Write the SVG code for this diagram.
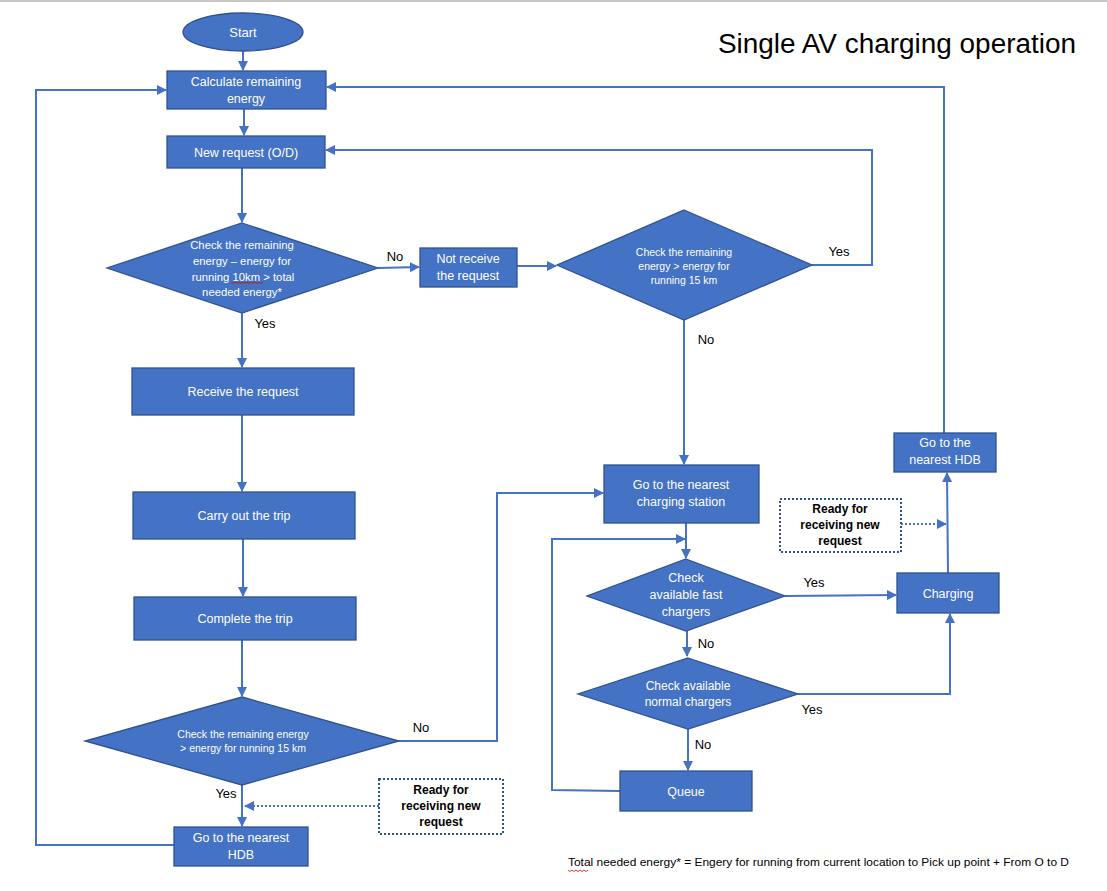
<svg xmlns="http://www.w3.org/2000/svg" width="1107" height="891" viewBox="0 0 1107 891">
<style>
.n{fill:#4472C4;stroke:#2F528F;stroke-width:1.3}
.t{fill:#fff;font-family:"Liberation Sans",Arial,sans-serif;text-anchor:middle}
.c{fill:none;stroke:#4472C4;stroke-width:2}
.d{fill:none;stroke:#4472C4;stroke-width:2;stroke-dasharray:2 2}
.box{fill:#fff;stroke:#2F528F;stroke-width:2;stroke-dasharray:2 2}
.b{fill:#000;font-family:"Liberation Sans",Arial,sans-serif;font-weight:bold;font-size:12px;text-anchor:middle}
.l{fill:#000;font-family:"Liberation Sans",Arial,sans-serif;font-size:13px;text-anchor:middle}
.sq{fill:none;stroke:#d00;stroke-width:0.8}
</style>
<defs>
<marker id="a" viewBox="0 0 10 10" refX="9" refY="5" markerWidth="5" markerHeight="5" orient="auto" markerUnits="strokeWidth">
<path d="M0,0 L10,5 L0,10 z" fill="#4472C4"/>
</marker>
</defs>
<rect x="0" y="0" width="1107" height="891" fill="#fff"/>
<line x1="0" y1="1" x2="1107" y2="1" stroke="#c8c8c8" stroke-width="2"/>
<text x="718" y="53" font-family="'Liberation Sans',Arial,sans-serif" font-size="27" textLength="358" lengthAdjust="spacingAndGlyphs" fill="#000">Single AV charging operation</text>

<g id="connectors">
<line class="c" x1="243" y1="51" x2="243" y2="70" marker-end="url(#a)"/>
<line class="c" x1="244" y1="109" x2="244" y2="135" marker-end="url(#a)"/>
<line class="c" x1="242" y1="168" x2="242" y2="222" marker-end="url(#a)"/>
<line class="c" x1="378" y1="268" x2="419" y2="267" marker-end="url(#a)"/>
<line class="c" x1="517" y1="266" x2="556" y2="266" marker-end="url(#a)"/>
<polyline class="c" points="812,265 872,265 872,150 326,150" marker-end="url(#a)"/>
<line class="c" x1="684" y1="320" x2="684" y2="464" marker-end="url(#a)"/>
<polyline class="c" points="944,433 944,87 327,87" marker-end="url(#a)"/>
<line class="c" x1="242" y1="313" x2="242" y2="367" marker-end="url(#a)"/>
<line class="c" x1="242" y1="415" x2="242" y2="491" marker-end="url(#a)"/>
<line class="c" x1="243" y1="539" x2="243" y2="596" marker-end="url(#a)"/>
<line class="c" x1="242" y1="640" x2="242" y2="696" marker-end="url(#a)"/>
<polyline class="c" points="399,741 497,741 497,493 603,493" marker-end="url(#a)"/>
<line class="c" x1="242" y1="785" x2="242" y2="826" marker-end="url(#a)"/>
<polyline class="c" points="174,845 36,845 36,90 166,90" marker-end="url(#a)"/>
<line class="d" x1="379" y1="806" x2="245" y2="806" marker-end="url(#a)"/>
<line class="c" x1="686" y1="523" x2="686" y2="558" marker-end="url(#a)"/>
<polyline class="c" points="620,791 552,790 552,539 685,539" marker-end="url(#a)"/>
<line class="c" x1="785" y1="596" x2="896" y2="595" marker-end="url(#a)"/>
<line class="c" x1="687" y1="631" x2="687" y2="656" marker-end="url(#a)"/>
<polyline class="c" points="798,694 950,694 950,614" marker-end="url(#a)"/>
<line class="c" x1="688" y1="729" x2="688" y2="770" marker-end="url(#a)"/>
<line class="c" x1="948" y1="573" x2="947" y2="473" marker-end="url(#a)"/>
<line class="d" x1="901" y1="524" x2="946" y2="524" marker-end="url(#a)"/>
</g>

<g id="labels">
<text class="l" x="395" y="261">No</text>
<text class="l" x="839" y="256">Yes</text>
<text class="l" x="706" y="344">No</text>
<text class="l" x="265" y="328">Yes</text>
<text class="l" x="421" y="732">No</text>
<text class="l" x="226" y="798">Yes</text>
<text class="l" x="814" y="587">Yes</text>
<text class="l" x="706" y="648">No</text>
<text class="l" x="812" y="714">Yes</text>
<text class="l" x="703" y="749">No</text>
</g>

<g id="start">
<ellipse class="n" cx="243" cy="32" rx="60" ry="19"/>
<text class="t" x="243" y="37" font-size="13">Start</text>
</g>
<g id="calc">
<rect class="n" x="167" y="71" width="159" height="38"/>
<text class="t" x="246" y="86" font-size="12.5">Calculate remaining</text>
<text class="t" x="246" y="103" font-size="12.5">energy</text>
</g>
<g id="newreq">
<rect class="n" x="167" y="136" width="158" height="32"/>
<text class="t" x="246" y="157" font-size="12.5">New request (O/D)</text>
</g>
<g id="check1">
<polygon class="n" points="242,223 378,268 242,313 107,268"/>
<text class="t" x="242" y="249" font-size="11.3">Check the remaining</text>
<text class="t" x="242" y="265" font-size="11.3">energy – energy for</text>
<text class="t" x="243" y="281" font-size="11.3">running 10km &gt; total</text>
<text class="t" x="242" y="296" font-size="11.3">needed energy*</text>
<path class="sq" d="M231,282 l2,1.5 l2,-1.5 l2,1.5 l2,-1.5 l2,1.5 l2,-1.5 l2,1.5 l2,-1.5 l2,1.5 l2,-1.5 l2,1.5 l2,-1.5 l2,1.5 l2,-1.5 l2,1.5 l2,-1.5"/>
</g>
<g id="notreceive">
<rect class="n" x="420" y="248" width="97" height="39"/>
<text class="t" x="468" y="263" font-size="12.5">Not receive</text>
<text class="t" x="468" y="280" font-size="12.5">the request</text>
</g>
<g id="check2">
<polygon class="n" points="684,210 812,265 684,320 557,265"/>
<text class="t" x="684" y="256" font-size="10.5">Check the remaining</text>
<text class="t" x="684" y="270" font-size="10.5">energy &gt; energy for</text>
<text class="t" x="684" y="284" font-size="10.5">running 15 km</text>
</g>
<g id="receive">
<rect class="n" x="132" y="368" width="222" height="47"/>
<text class="t" x="243" y="396" font-size="12.5">Receive the request</text>
</g>
<g id="carry">
<rect class="n" x="133" y="492" width="222" height="47"/>
<text class="t" x="244" y="520" font-size="12.5">Carry out the trip</text>
</g>
<g id="complete">
<rect class="n" x="134" y="597" width="222" height="43"/>
<text class="t" x="245" y="623" font-size="12.5">Complete the trip</text>
</g>
<g id="check3">
<polygon class="n" points="242,697 399,741 242,785 85,741"/>
<text class="t" x="243" y="738" font-size="10.5">Check the remaining energy</text>
<text class="t" x="243" y="752" font-size="10.5">&gt; energy for running 15 km</text>
</g>
<g id="hdbleft">
<rect class="n" x="174" y="827" width="134" height="39"/>
<text class="t" x="241" y="842" font-size="12.5">Go to the nearest</text>
<text class="t" x="241" y="859" font-size="12.5">HDB</text>
</g>
<g id="readyleft">
<rect class="box" x="379" y="779" width="124" height="55"/>
<text class="b" x="441" y="794">Ready for</text>
<text class="b" x="441" y="810">receiving new</text>
<text class="b" x="441" y="826">request</text>
</g>
<g id="station">
<rect class="n" x="604" y="465" width="155" height="58"/>
<text class="t" x="681" y="489" font-size="12.5">Go to the nearest</text>
<text class="t" x="681" y="506" font-size="12.5">charging station</text>
</g>
<g id="fast">
<polygon class="n" points="686,559 785,596 686,631 587,596"/>
<text class="t" x="686" y="582" font-size="12.5">Check</text>
<text class="t" x="686" y="599" font-size="12.5">available fast</text>
<text class="t" x="686" y="616" font-size="12.5">chargers</text>
</g>
<g id="normal">
<polygon class="n" points="688,658 798,694 688,729 578,694"/>
<text class="t" x="688" y="690" font-size="12">Check available</text>
<text class="t" x="688" y="706" font-size="12">normal chargers</text>
</g>
<g id="queue">
<rect class="n" x="620" y="771" width="132" height="40"/>
<text class="t" x="686" y="796" font-size="12.5">Queue</text>
</g>
<g id="charging">
<rect class="n" x="897" y="573" width="102" height="40"/>
<text class="t" x="948" y="598" font-size="12.5">Charging</text>
</g>
<g id="hdbright">
<rect class="n" x="894" y="433" width="102" height="39"/>
<text class="t" x="945" y="447" font-size="12.5">Go to the</text>
<text class="t" x="945" y="464" font-size="12.5">nearest HDB</text>
</g>
<g id="readyright">
<rect class="box" x="780" y="499" width="121" height="53"/>
<text class="b" x="840" y="513">Ready for</text>
<text class="b" x="840" y="529">receiving new</text>
<text class="b" x="840" y="545">request</text>
</g>

<g id="footnote">
<text x="568" y="866" font-family="'Liberation Sans',Arial,sans-serif" font-size="11" fill="#000" textLength="501" lengthAdjust="spacingAndGlyphs">Total needed energy* = Engery for running from current location to Pick up point + From O to D</text>
<path class="sq" d="M568,870 l2,1.5 l2,-1.5 l2,1.5 l2,-1.5 l2,1.5 l2,-1.5 l2,1.5 l2,-1.5 l2,1.5 l2,-1.5"/>
</g>
</svg>
